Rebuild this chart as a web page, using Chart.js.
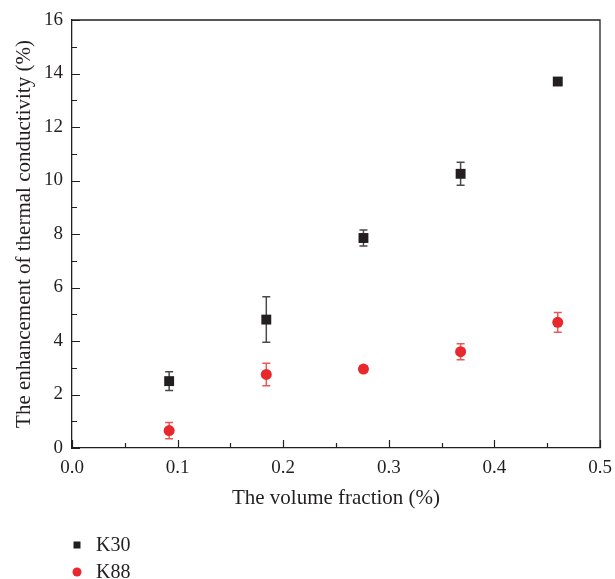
<!DOCTYPE html>
<html>
<head>
<meta charset="utf-8">
<script src="https://cdn.jsdelivr.net/npm/chart.js@4"></script>
<style>
  html, body { margin: 0; padding: 0; background: #fff; }
  #wrap { width: 615px; height: 579px; }
</style>
</head>
<body>
<div id="wrap"><canvas id="chart" width="615" height="579"></canvas></div>
<script>
// volume fraction (%)
const xValues = [0.092, 0.184, 0.276, 0.368, 0.46];
// K30 enhancement (%) and error
const k30Values = [2.5, 4.8, 7.85, 10.25, 13.7];
const k30Errors = [0.35, 0.85, 0.3, 0.43, 0.1];
// K88 enhancement (%) and error
const k88Values = [0.65, 2.75, 2.95, 3.6, 4.7];
const k88Errors = [0.3, 0.42, 0.12, 0.3, 0.37];

const seriesLabels = ['K30', 'K88'];
const xTitle = 'The volume fraction (%)';
const yTitle = 'The enhancement of thermal conductivity (%)';

const FONT = '"Liberation Serif", "DejaVu Serif", serif';
const AXIS_COLOR = '#231f20';

function toPoints(xs, ys, errs) {
    return xs.map((x, i) => ({ x: x, y: ys[i], err: errs[i] }));
}

// error bars, drawn under the markers
const errorBars = {
    id: 'errorBars',
    beforeDatasetsDraw(chart) {
        const ctx = chart.ctx;
        const xs = chart.scales.x;
        const ys = chart.scales.y;
        chart.data.datasets.forEach(ds => {
            ctx.save();
            ctx.strokeStyle = ds.errorColor;
            ctx.lineWidth = 1.5;
            ds.data.forEach(p => {
                const px = xs.getPixelForValue(p.x);
                const top = ys.getPixelForValue(p.y + p.err);
                const bot = ys.getPixelForValue(p.y - p.err);
                ctx.beginPath();
                ctx.moveTo(px, top); ctx.lineTo(px, bot);
                ctx.moveTo(px - 4, top); ctx.lineTo(px + 4, top);
                ctx.moveTo(px - 4, bot); ctx.lineTo(px + 4, bot);
                ctx.stroke();
            });
            ctx.restore();
        });
    }
};

// frame on top/right and inward major + minor ticks
const frameTicks = {
    id: 'frameTicks',
    afterDraw(chart) {
        const ctx = chart.ctx;
        const a = chart.chartArea;
        ctx.save();
        ctx.strokeStyle = AXIS_COLOR;
        ctx.lineWidth = 1.3;
        ctx.beginPath();
        ctx.moveTo(a.left, a.top); ctx.lineTo(a.right, a.top);
        ctx.lineTo(a.right, a.bottom);
        ctx.stroke();

        const xs = chart.scales.x;
        const ys = chart.scales.y;
        ctx.lineWidth = 1.2;
        ctx.beginPath();
        const xt = xs.ticks.map(t => t.value);
        xt.forEach((v, i) => {
            const px = Math.round(xs.getPixelForValue(v)) + 0.5;
            ctx.moveTo(px, a.bottom); ctx.lineTo(px, a.bottom - 8);
            if (i < xt.length - 1) {
                const mx = Math.round(xs.getPixelForValue((v + xt[i + 1]) / 2)) + 0.5;
                ctx.moveTo(mx, a.bottom); ctx.lineTo(mx, a.bottom - 5);
            }
        });
        const yt = ys.ticks.map(t => t.value);
        yt.forEach((v, i) => {
            const py = Math.round(ys.getPixelForValue(v)) + 0.5;
            ctx.moveTo(a.left, py); ctx.lineTo(a.left + 8, py);
            if (i < yt.length - 1) {
                const my = Math.round(ys.getPixelForValue((v + yt[i + 1]) / 2)) + 0.5;
                ctx.moveTo(a.left, my); ctx.lineTo(a.left + 5, my);
            }
        });
        ctx.stroke();

        // legend below the plot, one row per series
        ctx.font = '20px ' + FONT;
        ctx.textBaseline = 'middle';
        ctx.textAlign = 'left';
        chart.data.datasets.forEach((ds, i) => {
            const cy = 545 + i * 27;
            ctx.fillStyle = ds.backgroundColor;
            if (ds.pointStyle === 'rect') {
                ctx.fillRect(73.5, cy - 3.5, 7, 7);
            } else {
                ctx.beginPath();
                ctx.arc(77, cy, 4.5, 0, Math.PI * 2);
                ctx.fill();
            }
            ctx.fillStyle = '#231f20';
            ctx.fillText(ds.label, 96, cy + 1);
        });
        ctx.restore();
    }
};

const ctx = document.getElementById('chart').getContext('2d');
new Chart(ctx, {
    type: 'scatter',
    data: {
        datasets: [{
            label: seriesLabels[0],
            data: toPoints(xValues, k30Values, k30Errors),
            pointStyle: 'rect',
            pointRadius: 7,
            backgroundColor: '#231f20',
            borderColor: '#231f20',
            borderWidth: 0,
            errorColor: '#4a4a4a'
        }, {
            label: seriesLabels[1],
            data: toPoints(xValues, k88Values, k88Errors),
            pointStyle: 'circle',
            pointRadius: 5.5,
            backgroundColor: '#e8282c',
            borderColor: '#e8282c',
            borderWidth: 0,
            errorColor: '#ea5a55'
        }]
    },
    options: {
        responsive: false,
        animation: false,
        layout: { padding: { left: 12, right: 15, top: 20, bottom: 68 } },
        plugins: {
            legend: { display: false },
            tooltip: { enabled: false }
        },
        scales: {
            x: {
                type: 'linear',
                min: 0, max: 0.5,
                grid: { display: false, tickLength: 0 },
                border: { display: true, color: AXIS_COLOR, width: 1.3 },
                ticks: {
                    stepSize: 0.1,
                    padding: 9,
                    color: '#231f20',
                    font: { family: FONT, size: 19 },
                    callback: v => v.toFixed(1)
                },
                title: {
                    display: true,
                    text: xTitle,
                    color: '#231f20',
                    padding: 0,
                    font: { family: FONT, size: 21 }
                },
                afterFit: s => {
                    s.height = 63;
                    s.paddingLeft = 0;
                    s.paddingRight = 0;
                }
            },
            y: {
                min: 0, max: 16,
                grid: { display: false, tickLength: 0 },
                border: { display: true, color: AXIS_COLOR, width: 1.3 },
                ticks: {
                    stepSize: 2,
                    padding: 9,
                    color: '#231f20',
                    font: { family: FONT, size: 19 }
                },
                title: {
                    display: true,
                    text: yTitle,
                    color: '#231f20',
                    padding: 0,
                    font: { family: FONT, size: 21 }
                },
                afterFit: s => {
                    s.width = 60;
                    s.paddingTop = 0;
                    s.paddingBottom = 0;
                }
            }
        }
    },
    plugins: [errorBars, frameTicks]
});
</script>
</body>
</html>
